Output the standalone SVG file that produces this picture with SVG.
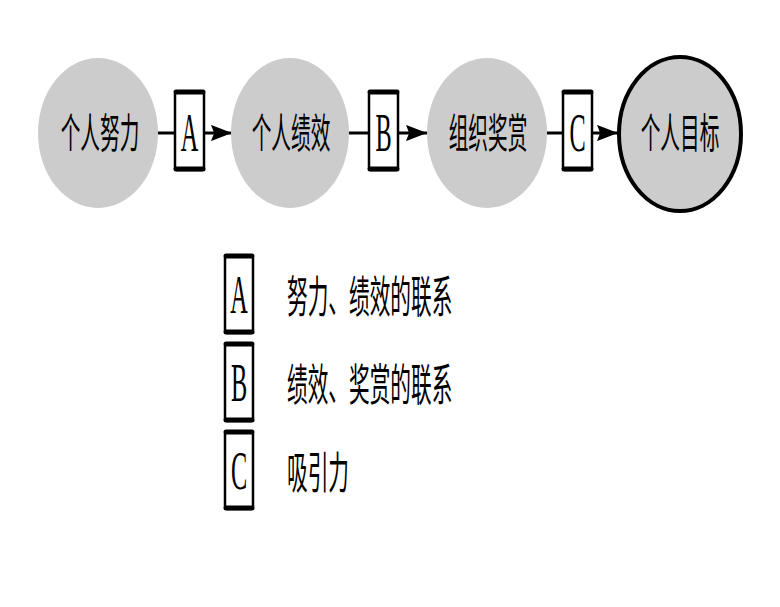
<svg xmlns="http://www.w3.org/2000/svg" width="780" height="607" viewBox="0 0 780 607">
<defs>
<style>
.node{fill:#cccccc;stroke:none}
.goal{fill:#cccccc;stroke:#000;stroke-width:4}
.cn{font-family:"Noto Sans CJK SC","Noto Sans CJK JP",sans-serif;font-size:41px;font-weight:400;fill:#000}
.lg{font-family:"Noto Sans CJK SC","Noto Sans CJK JP",sans-serif;font-size:44px;font-weight:400;fill:#000}
.let{font-family:"Liberation Serif","Times New Roman",serif;font-size:54px;fill:#000}
.box{fill:#fff;stroke:#000;stroke-width:2.5}
.bar{stroke:#000;stroke-width:5;stroke-linecap:round}
.ln{stroke:#000;stroke-width:3;fill:none}
</style>
<marker id="arr" viewBox="0 0 10 10" refX="10" refY="5" markerWidth="7" markerHeight="5.4" markerUnits="strokeWidth" orient="auto" preserveAspectRatio="none">
<path d="M0,0 L10,5 L0,10 L1.5,5 z" fill="#000"/>
</marker>
</defs>
<rect width="780" height="607" fill="#fff"/>
<g id="connectors">
<line class="ln" x1="158" y1="133" x2="174" y2="133"/>
<line class="ln" x1="204" y1="133" x2="232" y2="133" marker-end="url(#arr)"/>
<line class="ln" x1="349" y1="133" x2="368" y2="133"/>
<line class="ln" x1="398" y1="133" x2="427" y2="133" marker-end="url(#arr)"/>
<line class="ln" x1="547" y1="133" x2="562" y2="133"/>
<line class="ln" x1="592" y1="133" x2="618" y2="133" marker-end="url(#arr)"/>
</g>
<g id="n1"><ellipse class="node" cx="98" cy="133" rx="60" ry="75"/><text class="cn" text-anchor="middle" transform="translate(100,148) scale(0.48,1)">个人努力</text></g>
<g id="n2"><ellipse class="node" cx="290" cy="133" rx="59" ry="75"/><text class="cn" text-anchor="middle" transform="translate(291,148) scale(0.48,1)">个人绩效</text></g>
<g id="n3"><ellipse class="node" cx="487" cy="133" rx="60" ry="75"/><text class="cn" text-anchor="middle" transform="translate(488,148) scale(0.48,1)">组织奖赏</text></g>
<g id="n4"><ellipse class="goal" cx="680" cy="134" rx="61" ry="77"/><text class="cn" text-anchor="middle" transform="translate(680,148) scale(0.48,1)">个人目标</text></g>
<g id="boxA"><rect class="box" x="175" y="92" width="29" height="78" rx="2"/><line class="bar" x1="176" y1="92" x2="203" y2="92"/><line class="bar" x1="176" y1="169" x2="203" y2="169"/><text class="let" text-anchor="middle" transform="translate(189.5,151) scale(0.45,1)">A</text></g>
<g id="boxB"><rect class="box" x="369" y="92" width="29" height="78" rx="2"/><line class="bar" x1="370" y1="92" x2="397" y2="92"/><line class="bar" x1="370" y1="169" x2="397" y2="169"/><text class="let" text-anchor="middle" transform="translate(383.5,151) scale(0.45,1)">B</text></g>
<g id="boxC"><rect class="box" x="563" y="92" width="29" height="78" rx="2"/><line class="bar" x1="564" y1="92" x2="591" y2="92"/><line class="bar" x1="564" y1="169" x2="591" y2="169"/><text class="let" text-anchor="middle" transform="translate(577.5,151) scale(0.45,1)">C</text></g>
<g id="legendA"><rect class="box" x="225" y="256" width="28" height="77" rx="2"/><line class="bar" x1="226" y1="256" x2="252" y2="256"/><line class="bar" x1="226" y1="332" x2="252" y2="332"/><text class="let" text-anchor="middle" transform="translate(239,313) scale(0.45,1)">A</text><text class="lg" transform="translate(287,313) scale(0.47,1)">努力、绩效的联系</text></g>
<g id="legendB"><rect class="box" x="225" y="344" width="28" height="77" rx="2"/><line class="bar" x1="226" y1="344" x2="252" y2="344"/><line class="bar" x1="226" y1="420" x2="252" y2="420"/><text class="let" text-anchor="middle" transform="translate(239,401) scale(0.45,1)">B</text><text class="lg" transform="translate(287,401) scale(0.47,1)">绩效、奖赏的联系</text></g>
<g id="legendC"><rect class="box" x="225" y="432" width="28" height="77" rx="2"/><line class="bar" x1="226" y1="432" x2="252" y2="432"/><line class="bar" x1="226" y1="508" x2="252" y2="508"/><text class="let" text-anchor="middle" transform="translate(239,489) scale(0.45,1)">C</text><text class="lg" transform="translate(287,489) scale(0.47,1)">吸引力</text></g>
</svg>
